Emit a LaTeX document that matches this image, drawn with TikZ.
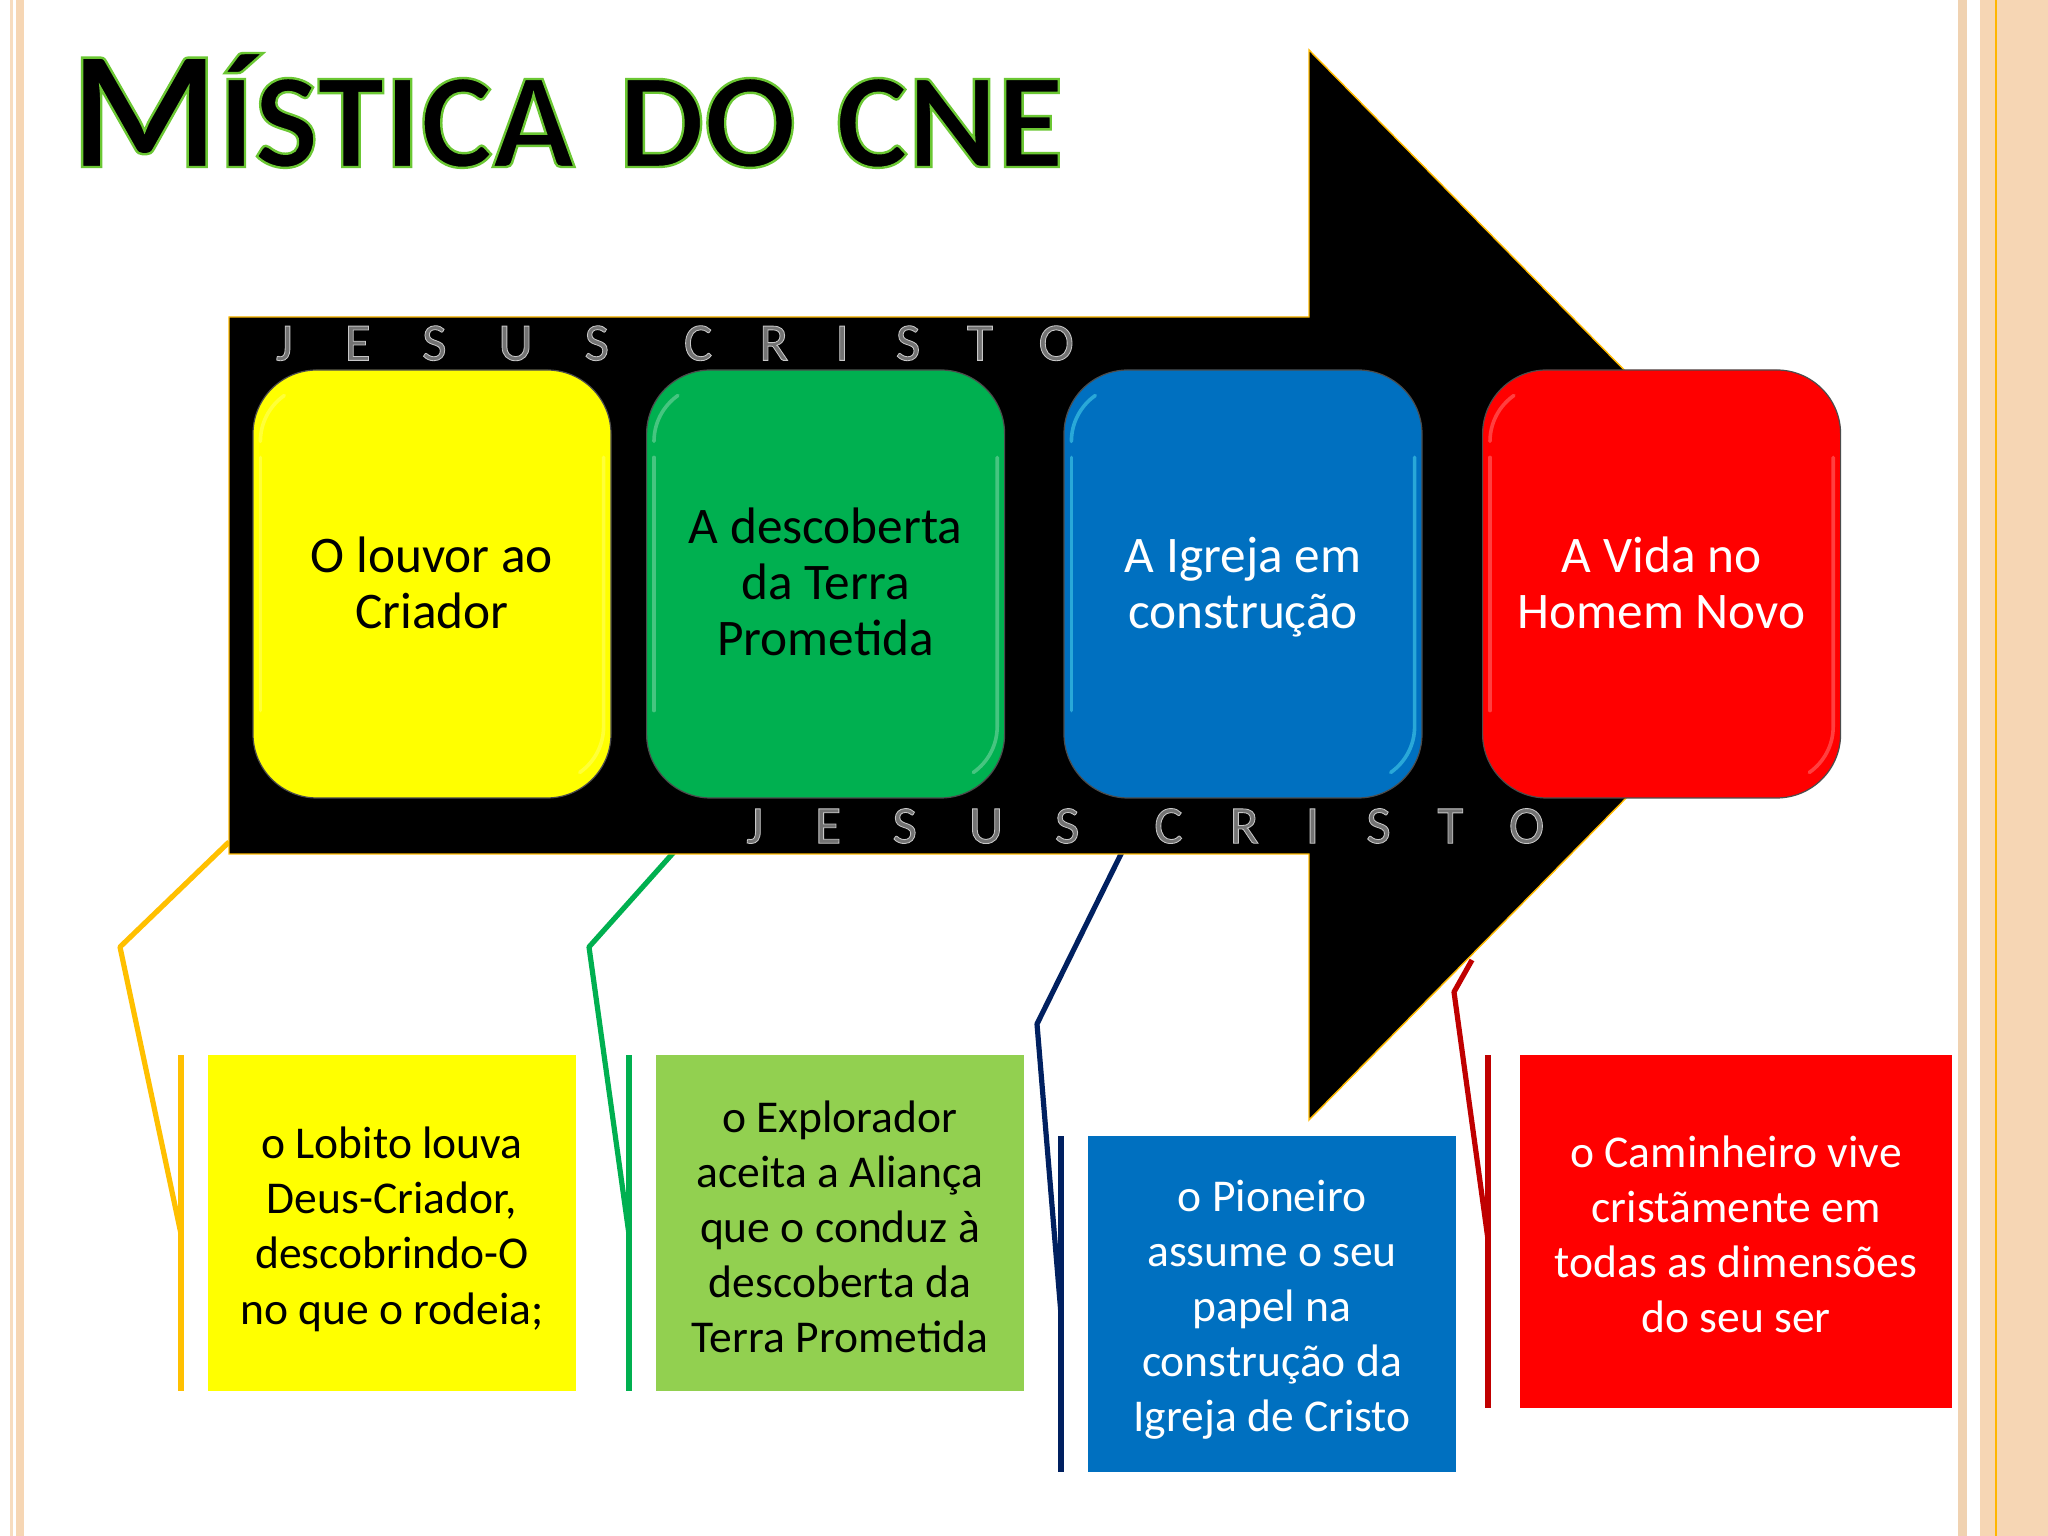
\documentclass[tikz,border=0pt]{standalone}
\usepackage{fontspec}
\setmainfont{Carlito}
\usepackage{tikz}
\usetikzlibrary{calc, positioning}

\definecolor{band}{HTML}{F6D6B4}
\definecolor{gold}{HTML}{FFC000}
\definecolor{cyellow}{HTML}{FFFF00}
\definecolor{cgreen}{HTML}{00B050}
\definecolor{lgreen}{HTML}{92D050}
\definecolor{cblue}{HTML}{0070C0}
\definecolor{cred}{HTML}{FF0000}
\definecolor{navy}{HTML}{002060}
\definecolor{dred}{HTML}{C00000}

\newcommand{\titletext}{\bfseries{\fontsize{120}{120}\selectfont M}{\fontsize{96.5}{96.5}\selectfont ÍSTICA\hspace{.1em} DO\hspace{.07em} CNE}}
\newcommand{\jesus}{\special{pdf:code q 2 Tr 0.6 w 0.78 0.78 0.78 RG}\fontsize{38}{38}\selectfont{\addfontfeature{LetterSpace=97}JESUS}\hspace{1.4em}{\addfontfeature{LetterSpace=88}CRISTO}\special{pdf:code Q}}
\newcommand{\topgap}[1]{\rule{0pt}{#1}}
\newcommand{\lowgap}[1]{\rule[-#1]{0pt}{0pt}}

\tikzset{
  bigbox/.style={draw=black!70, line width=.3mm, rounded corners=16mm, minimum width=89.5mm, minimum height=107mm,
    align=center, inner sep=0, font=\fontsize{36.5}{39.8}\selectfont},
  lowbox/.style={minimum width=92mm, minimum height=84mm, align=center, inner sep=0,
    font=\fontsize{32.4}{39.2}\selectfont},
  bar/.style={minimum width=1.5mm, minimum height=84mm, inner sep=0},
  link/.style={line width=1.3mm, line join=round},
  shine/.style={line width=.9mm, opacity=.55, line cap=round},
}

\begin{document}
\begin{tikzpicture}
\useasboundingbox (0,0) rectangle (512mm,384mm);
\fill[white] (0,0) rectangle (512mm,384mm);

% side bands
\fill[band!85!white] (2.5mm,0) rectangle (3.25mm,384mm);
\fill[band] (4mm,0) rectangle (6mm,384mm);
\fill[band!95!gray] (489.5mm,0) rectangle (491.75mm,384mm);
\fill[band] (495mm,0) rectangle (512mm,384mm);
\fill[gold!85!orange] (498.7mm,0) rectangle (499.3mm,384mm);

% title
\node[anchor=base west, inner sep=0] (T) at (17.6mm,342.25mm)
  {\color{black}\special{pdf:code q 2 Tr 1.7 w 0.42 0.78 0.2 RG}\titletext\special{pdf:code Q}};

% bars beside the lower boxes
\node[bar, fill=gold] (BarY) at (45.2mm,78.25mm) {};
\node[bar, fill=cgreen] (BarG) at (157.2mm,78.25mm) {};
\node[bar, fill=navy] (BarB) at (265.2mm,58mm) {};
\node[bar, fill=dred, minimum height=88.25mm] (BarR) at (372mm,76.1mm) {};

% connectors, behind the arrow
\coordinate (LY0) at (57.25mm,173.5mm);
\coordinate (LY1) at (30mm,147.25mm);
\coordinate (LG0) at (168.5mm,171mm);
\coordinate (LG1) at (147.25mm,147.25mm);
\coordinate (LB0) at (280.5mm,171mm);
\coordinate (LB1) at (259.25mm,128mm);
\coordinate (LR0) at (368mm,144mm);
\coordinate (LR1) at (363.5mm,136mm);
\draw[link, gold] (LY0) -- (LY1) -- ([yshift=-2.5mm]BarY.center);
\draw[link, cgreen] (LG0) -- (LG1) -- ([yshift=-2.5mm]BarG.center);
\draw[link, navy] (LB0) -- (LB1) -- ([yshift=-2mm]BarB.center);
\draw[link, dred] (LR0) -- (LR1) -- ([yshift=-2mm]BarR.center);

% arrow
\draw[fill=black, draw=gold!90!orange, line width=.35mm]
  (57.25mm,304.75mm) -- (327.25mm,304.75mm) -- (327.25mm,371.5mm) -- (459mm,237.75mm)
  -- (327.25mm,104mm) -- (327.25mm,170.5mm) -- (57.25mm,170.5mm) -- cycle;

\node[anchor=base west, inner sep=0, text=black!55] (J1) at (68.9mm,293.9mm) {\jesus};
\node[anchor=base west, inner sep=0, text=black!55] (J2) at (186.5mm,173.2mm) {\jesus};

% big boxes
\node[bigbox, fill=cyellow] (BoxA) at (108mm,238mm) {O louvor ao\\Criador\lowgap{2pt}};
\node[bigbox, fill=cgreen] (BoxB) at (206.4mm,238mm) {A descoberta\\da Terra\\Prometida\lowgap{3pt}};
\node[bigbox, fill=cblue, text=white] (BoxC) at (310.75mm,238mm) {\topgap{30pt}A Igreja em\\construção};
\node[bigbox, fill=cred, text=white] (BoxD) at (415.4mm,238mm) {A Vida no\\Homem Novo\lowgap{2pt}};

\foreach \bx/\hl in {BoxA/cyellow!60!white, BoxB/cgreen!50!white, BoxC/cblue!40!cyan!70!white, BoxD/cred!55!white} {
  \draw[shine, \hl] ($(\bx.north west)+(2mm,-22mm)$) -- ($(\bx.south west)+(2mm,22mm)$);
  \draw[shine, \hl] ($(\bx.north east)+(-2mm,-22mm)$) -- ($(\bx.south east)+(-2mm,18mm)$)
    arc (0:-55:14mm);
  \draw[shine, \hl] ($(\bx.north west)+(2mm,-18mm)$) arc (180:125:14mm);
}

% lower boxes
\node[lowbox, fill=cyellow] (LowA) at (98mm,78.25mm) {\topgap{31.4pt}o Lobito louva\\Deus-Criador,\\descobrindo-O\\no que o rodeia;};
\node[lowbox, fill=lgreen] (LowB) at (210mm,78.25mm) {\topgap{27.7pt}o Explorador\\aceita a Aliança\\que o conduz à\\descoberta da\\Terra Prometida};
\node[lowbox, fill=cblue, text=white] (LowC) at (318mm,58mm) {\topgap{30.5pt}o Pioneiro\\assume o seu\\papel na\\construção da\\Igreja de Cristo};
\node[lowbox, fill=cred, text=white, minimum width=108mm, minimum height=88.25mm] (LowD) at (434mm,76.1mm)
  {\topgap{26.8pt}o Caminheiro vive\\cristãmente em\\todas as dimensões\\do seu ser};

%\draw[step=10mm,color=gray] (0,0) grid (512mm,384mm);
\end{tikzpicture}
\end{document}
